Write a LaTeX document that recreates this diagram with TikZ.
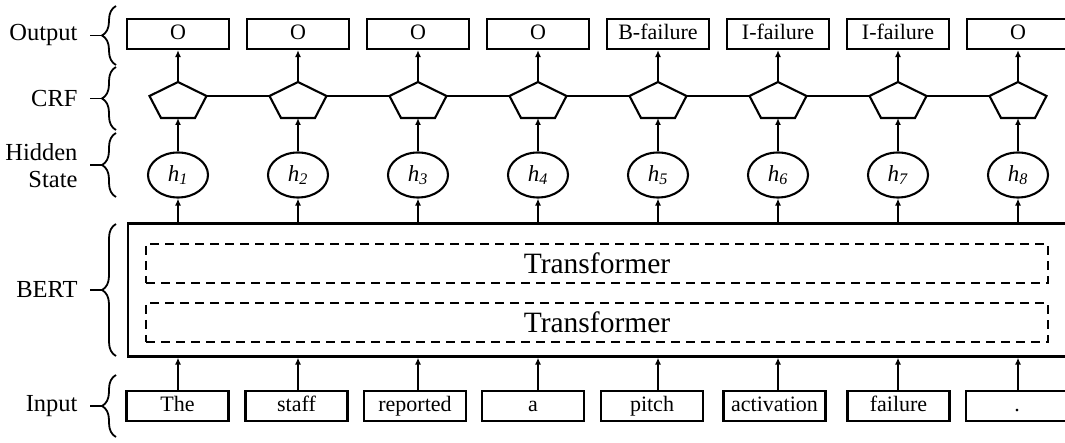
\documentclass[tikz,border=0pt]{standalone}
\usepackage{fontspec}
\setmainfont{Liberation Serif}
\usetikzlibrary{shapes.geometric,decorations.pathreplacing,arrows.meta}

\begin{document}
\begin{tikzpicture}[x=1pt,y=-1pt,
  box/.style={draw,line width=2.1pt,minimum width=102pt,minimum height=30pt,inner sep=0pt,
    text height=15pt,text depth=4.5pt,font=\fontsize{22}{24}\selectfont},
  hid/.style={draw,ellipse,line width=2.1pt,minimum width=60pt,minimum height=45pt,inner sep=0pt,
    font=\fontsize{23}{25}\selectfont},
  crf/.style={minimum width=57pt,minimum height=36pt,inner sep=0pt,outer sep=0pt},
  penta/.style={line width=2.1pt,line join=miter},
  arr/.style={line width=1.8pt,-{Latex[length=7pt,width=6pt]}},
  lab/.style={anchor=east,align=right,font=\fontsize{24.5}{27}\selectfont},
  brc/.style={line width=1.8pt,decorate,decoration={brace,amplitude=14pt,aspect=0.5}},
  tick/.style={line width=1.8pt},
  tf/.style={draw,dash pattern=on 9pt off 6pt,line width=2.2pt,minimum width=902pt,
    minimum height=39pt,inner sep=0pt,font=\fontsize{29.5}{31}\selectfont},
  bertbox/.style={draw,line width=2.2pt,minimum width=952pt,minimum height=133pt,inner sep=0pt}
]
\useasboundingbox (0,0) rectangle (1065,443);
\clip (0,0) rectangle (1065,443);

% layer labels with their braces
\node[lab] (lOut) at (81,35) {Output};
\node[lab] (lCrf) at (81,99) {CRF};
\node[lab] (lHid) at (81,166) {Hidden\\State};
\node[lab] (lBert) at (81,290) {BERT};
\node[lab] (lIn) at (81,406) {Input};

\draw[brc] (116,65) -- (116,6);
\draw[brc] (116,130) -- (116,67);
\draw[brc] (116,197) -- (116,133);
\draw[brc] (116,356) -- (116,224);
\draw[brc] (116,437) -- (116,375);
\draw[tick] (90,35.5) -- (102,35.5);
\draw[tick] (90,98.5) -- (102,98.5);
\draw[tick] (90,165) -- (102,165);
\draw[tick] (90,290) -- (102,290);
\draw[tick] (90,406) -- (102,406);

% BERT encoder
\node[bertbox] (bert) at (604,290) {};
\node[tf] (tf1) at (597,263.5) {Transformer};
\node[tf] (tf2) at (597,322.5) {Transformer};

% token columns
\foreach \i/\x/\ix/\tok/\tag in {1/178/177.5/The/O, 2/298/296.5/staff/O, 3/418/415/reported/O,
    4/538/533/a/O, 5/658/652/pitch/B-failure, 6/778/774.5/activation/I-failure,
    7/898/898.5/failure/I-failure, 8/1018/1017/./O}{
  \node[box] (o\i) at (\x,34) {\tag};
  \node[crf] (c\i) at (\x,100) {};
  \draw[penta] ([shift={(0,-18)}]c\i.center) -- ([shift={(28.5,-4)}]c\i.center)
    -- ([shift={(17,18)}]c\i.center) -- ([shift={(-17,18)}]c\i.center)
    -- ([shift={(-28.5,-4)}]c\i.center) -- cycle;
  \node[hid] (h\i) at (\x,175) {\textit{h}\textsubscript{\textit{\i}}};
  \node[box] (in\i) at (\ix,406) {\tok};
  \draw[arr] (c\i.north) -- (o\i.south);
  \draw[arr] (h\i.north) -- (c\i.south);
  \draw[arr] (bert.north -| h\i) -- (h\i.south);
  \draw[arr] (in\i.north -| h\i) -- (bert.south -| h\i);
}

% CRF chain
\foreach \i/\j in {1/2,2/3,3/4,4/5,5/6,6/7,7/8}{
  \draw[penta] ([shift={(28.5,-4)}]c\i.center) -- ([shift={(-28.5,-4)}]c\j.center);
}
\end{tikzpicture}
\end{document}
